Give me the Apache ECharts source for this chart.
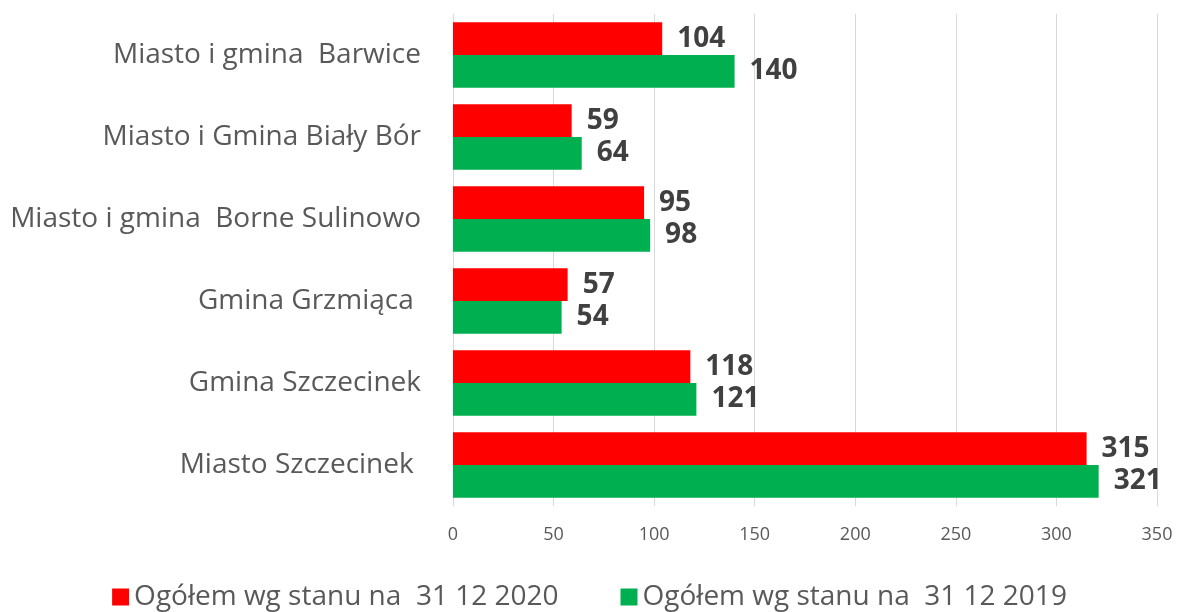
<!DOCTYPE html>
<html>
<head>
<meta charset="utf-8">
<script src="https://cdn.jsdelivr.net/npm/echarts@6/dist/echarts.min.js"></script>
<style>
  html, body { margin: 0; padding: 0; background: #fff; }
  #chart { width: 1179px; height: 612px; }
</style>
</head>
<body>
<div id="chart"></div>
<script>
  const categories = [
    'Miasto i gmina  Barwice',
    'Miasto i Gmina Biały Bór',
    'Miasto i gmina  Borne Sulinowo',
    'Gmina Grzmiąca ',
    'Gmina Szczecinek',
    'Miasto Szczecinek '
  ];
  const values2020 = [104, 59, 95, 57, 118, 315];
  const values2019 = [140, 64, 98, 54, 121, 321];
  const seriesNames = ['Ogółem wg stanu na  31 12 2020', 'Ogółem wg stanu na  31 12 2019'];

  const font = '"Open Sans", "Noto Sans", sans-serif';
  const chart = echarts.init(document.getElementById('chart'));

  const valueLabel = {
    show: true,
    position: 'right',
    distance: 15,
    fontFamily: font,
    fontSize: 28,
    fontWeight: 'bold',
    color: '#404040'
  };

  chart.setOption({
    animation: false,
    textStyle: { fontFamily: font },
    grid: { left: 453, right: 22, top: 14, bottom: 106, containLabel: false },
    legend: {
      top: 578,
      left: 'center',
      itemWidth: 17,
      itemHeight: 17,
      itemGap: 62,
      icon: 'rect',
      textStyle: { fontFamily: font, fontSize: 28, color: '#595959' },
      data: seriesNames
    },
    xAxis: {
      type: 'value',
      min: 0,
      max: 350,
      interval: 50,
      axisLine: { show: false },
      axisTick: { show: false },
      splitLine: { lineStyle: { color: '#d9d9d9', width: 1 } },
      axisLabel: { fontFamily: font, fontSize: 18, color: '#595959', margin: 20 }
    },
    yAxis: {
      type: 'category',
      inverse: true,
      data: categories,
      axisLine: { show: false },
      axisTick: { show: false },
      axisLabel: { fontFamily: font, fontSize: 28, color: '#595959', margin: 32 }
    },
    series: [
      {
        name: seriesNames[0],
        type: 'bar',
        data: values2020,
        barGap: '0%',
        barCategoryGap: '20%',
        itemStyle: { color: '#ff0000' },
        label: valueLabel
      },
      {
        name: seriesNames[1],
        type: 'bar',
        data: values2019,
        itemStyle: { color: '#00b050' },
        label: valueLabel
      }
    ]
  });
</script>
</body>
</html>
